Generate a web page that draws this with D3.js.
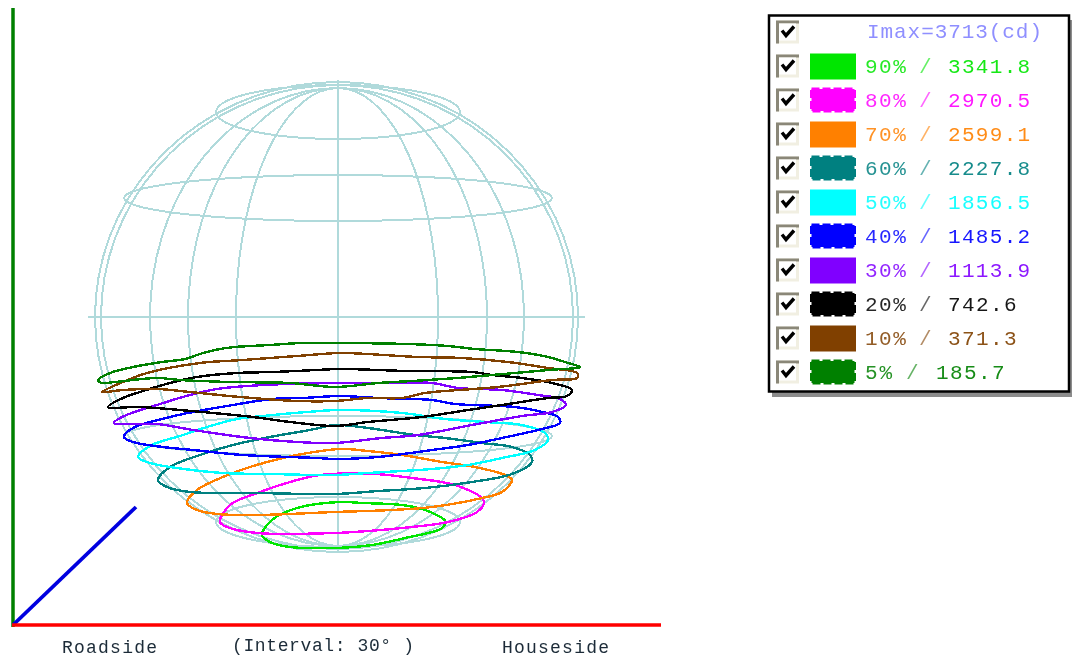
<!DOCTYPE html>
<html>
<head>
<meta charset="utf-8">
<title>Isocandela diagram</title>
<script src="https://cdnjs.cloudflare.com/ajax/libs/d3/7.8.5/d3.min.js"></script>
<style>
html, body { margin: 0; padding: 0; background: #fff; }
svg { display: block; }
text { font-family: "Liberation Mono", monospace; white-space: pre; }
</style>
</head>
<body>
<svg id="chart" width="1072" height="659"></svg>
<script>
// isocandela levels, legend order
var levels = ["90%", "80%", "70%", "60%", "50%", "40%", "30%", "20%", "10%", "5%"];
var candela = ["3341.8", "2970.5", "2599.1", "2227.8", "1856.5", "1485.2", "1113.9", "742.6", "371.3", "185.7"];
var colors = ["#00e600", "#ff00ff", "#ff8000", "#008080", "#00ffff", "#0000ff", "#8000ff", "#000000", "#804000", "#008000"];
var dashedSwatch = [false, true, false, true, false, true, false, true, false, true];
var title = "Imax=3713(cd)";

// curve outlines, sphere units from centre [across, up]
var curve90 = [[-76,-218],[-66,-203],[-41,-191],[2,-185],[24,-186],[64,-188],[87,-193],[107,-204],[104,-211],[67,-221],[34,-228],[-3,-231],[-48,-230],[-68,-225]];
var curve80 = [[-118,-205],[-108,-188],[-78,-175],[-48,-165],[-18,-158],[37,-157],[74,-161],[117,-168],[144,-181],[146,-186],[139,-195],[110,-205],[74,-210],[30,-214],[-3,-216],[-81,-216],[-111,-210]];
var curve70 = [[-151,-186],[-141,-173],[-105,-156],[-71,-145],[-41,-138],[2,-132],[30,-134],[64,-138],[104,-145],[137,-150],[167,-158],[174,-163],[164,-175],[144,-181],[94,-190],[54,-193],[-3,-195],[-81,-198],[-121,-197],[-141,-193]];
var curve60 = [[-180,-163],[-168,-150],[-135,-137],[-105,-128],[-68,-120],[-28,-113],[-3,-108],[30,-111],[77,-118],[107,-121],[144,-126],[174,-130],[192,-138],[194,-145],[174,-157],[134,-165],[87,-171],[40,-174],[-3,-177],[-81,-176],[-148,-175],[-171,-170]];
var curve50 = [[-200,-140],[-186,-128],[-158,-119],[-131,-110],[-101,-102],[-75,-99],[-31,-95],[2,-93],[64,-96],[107,-102],[147,-105],[184,-108],[207,-116],[210,-123],[197,-133],[164,-141],[130,-148],[94,-152],[30,-156],[-3,-158],[-68,-157],[-115,-156],[-161,-151],[-188,-146]];
var curve40 = [[-214,-120],[-205,-111],[-168,-100],[-145,-95],[-105,-88],[-66,-82],[-35,-81],[2,-79],[40,-81],[94,-83],[117,-87],[177,-90],[200,-94],[220,-100],[222,-106],[204,-112],[164,-121],[130,-128],[94,-133],[40,-140],[-3,-142],[-21,-141],[-95,-138],[-145,-133],[-175,-130],[-205,-125]];
var curve30 = [[-224,-106],[-216,-100],[-178,-87],[-148,-78],[-121,-72],[-75,-68],[2,-66],[52,-66],[94,-66],[120,-71],[164,-73],[200,-78],[222,-82],[228,-88],[214,-95],[184,-99],[134,-108],[80,-118],[44,-121],[-3,-126],[-41,-125],[-88,-121],[-145,-113],[-181,-107]];
var curve20 = [[-230,-90],[-215,-81],[-198,-75],[-168,-66],[-141,-60],[-101,-56],[-65,-55],[-21,-53],[2,-52],[69,-54],[134,-55],[154,-58],[184,-61],[214,-66],[234,-73],[229,-79],[210,-81],[164,-88],[130,-93],[84,-100],[30,-105],[-3,-109],[-48,-105],[-85,-100],[-125,-96],[-158,-93],[-198,-90]];
var curve10 = [[-236,-75],[-215,-65],[-191,-56],[-138,-46],[-95,-43],[-41,-39],[2,-36],[29,-37],[80,-40],[124,-41],[170,-45],[210,-51],[239,-56],[239,-61],[214,-63],[160,-70],[87,-76],[64,-81],[30,-81],[-3,-84],[-41,-84],[-98,-80],[-148,-75],[-181,-72],[-215,-73]];
var curve5 = [[-240,-63],[-228,-56],[-205,-50],[-176,-45],[-153,-42],[-135,-36],[-118,-32],[-103,-30],[-68,-28],[-36,-26],[2,-26],[69,-27],[110,-29],[137,-32],[180,-35],[210,-40],[230,-46],[242,-50],[210,-53],[154,-58],[119,-61],[74,-64],[40,-66],[-3,-70],[-48,-66],[-108,-65],[-158,-63],[-181,-61],[-223,-65],[-236,-66]];
var curves = [curve90, curve80, curve70, curve60, curve50, curve40, curve30, curve20, curve10, curve5];

// wireframe globe
var meridianAt = [-243, -237, -188, -150, -102, 100, 149, 186, 235, 240];
var meridianHeight = [235, 232, 229, 229, 229, 229, 229, 229, 232, 235];
var ringUp = [205, 119, -119, -205];
var ringWidth = [122, 214, 214, 122];
var ringDepth = [27, 23, 20, 25];

var svg = d3.select("#chart");

// the source is a scaled up screenshot, soften everything a little
svg.append("defs").append("filter").attr("id", "soft")
    .attr("filterUnits", "userSpaceOnUse")
    .attr("x", 0).attr("y", 0).attr("width", 1072).attr("height", 659)
    .append("feGaussianBlur").attr("stdDeviation", 0.45);

var root = svg.append("g").attr("filter", "url(#soft)");

var x = d3.scaleLinear().domain([-250, 250]).range([88, 588]);
var y = d3.scaleLinear().domain([-240, 240]).range([557, 77]);

var line = d3.line()
    .x(function(d) { return x(d[0]); })
    .y(function(d) { return y(d[1]); });

var gridColor = "#b0dadb";
var grid = root.append("g")
    .attr("fill", "none")
    .attr("stroke", gridColor)
    .attr("stroke-width", 2)
    .attr("shape-rendering", "crispEdges");

// half ellipses from pole to pole
var angles = d3.range(-90, 91, 5);
meridianAt.forEach(function(at, i) {
    var pts = angles.map(function(a) {
        var r = a * Math.PI / 180;
        return [at * Math.cos(r), meridianHeight[i] * Math.sin(r)];
    });
    grid.append("path").attr("d", line(pts));
});

var ringAngles = d3.range(0, 360, 6);
ringUp.forEach(function(up, i) {
    var pts = ringAngles.map(function(a) {
        var r = a * Math.PI / 180;
        return [ringWidth[i] * Math.cos(r), up + ringDepth[i] * Math.sin(r)];
    });
    grid.append("path").attr("d", line.curve(d3.curveLinearClosed)(pts));
});
line.curve(d3.curveLinear);

grid.append("path").attr("d", line([[-250, 0], [247, 0]]));
grid.append("path").attr("d", line([[0, 237], [0, -235]]));

// isocandela curves
var curveLine = d3.line()
    .x(function(d) { return x(d[0]); })
    .y(function(d) { return y(d[1]); })
    .curve(d3.curveCatmullRomClosed.alpha(0.5));

root.append("g").selectAll("path")
    .data(curves)
    .join("path")
    .attr("d", curveLine)
    .attr("fill", "none")
    .attr("stroke", function(d, i) { return colors[i]; })
    .attr("stroke-width", 2.4)
    .attr("shape-rendering", "crispEdges");

// axes
root.append("line").attr("x1", 13).attr("y1", 8).attr("x2", 13).attr("y2", 627)
    .attr("stroke", "#008000").attr("stroke-width", 3.5);
root.append("line").attr("x1", 13).attr("y1", 625).attr("x2", 136).attr("y2", 507)
    .attr("stroke", "#0000e0").attr("stroke-width", 3.8);
root.append("line").attr("x1", 12).attr("y1", 625).attr("x2", 661).attr("y2", 625)
    .attr("stroke", "#ff0000").attr("stroke-width", 3.5);

var axisLabels = root.append("g").attr("fill", "#1c2c38").attr("font-size", 18);
axisLabels.append("text").attr("x", 62).attr("y", 653)
    .attr("textLength", 95).attr("lengthAdjust", "spacing").text("Roadside");
axisLabels.append("text").attr("x", 232).attr("y", 651)
    .attr("textLength", 182).attr("lengthAdjust", "spacing").text("(Interval: 30\u00b0 )");
axisLabels.append("text").attr("x", 502).attr("y", 653)
    .attr("textLength", 107).attr("lengthAdjust", "spacing").text("Houseside");

// legend panel
var legend = root.append("g");
legend.append("rect").attr("x", 772).attr("y", 20).attr("width", 300).attr("height", 377).attr("fill", "#8c8c8c");
legend.append("rect").attr("x", 769).attr("y", 15.5).attr("width", 300).attr("height", 376)
    .attr("fill", "#fff").attr("stroke", "#000").attr("stroke-width", 2.5);

var rowY = d3.scalePoint().domain(d3.range(11)).range([32, 372]);

function checkbox(row) {
    var g = legend.append("g").attr("transform", "translate(776," + (rowY(row) - 11.5) + ")");
    g.append("rect").attr("width", 23).attr("height", 23).attr("fill", "#f1efe2");
    g.append("path").attr("d", "M0 0H23V3H3V23H0Z").attr("fill", "#8a8778");
    g.append("rect").attr("x", 3).attr("y", 3).attr("width", 17).attr("height", 17).attr("fill", "#fff");
    g.append("path").attr("d", "M6 10L10 15L18 6").attr("fill", "none")
        .attr("stroke", "#000").attr("stroke-width", 3.4);
}

function legendText(px, py, color, str, width) {
    var t = legend.append("text").attr("x", px).attr("y", py).attr("font-size", 21)
        .attr("fill", color).text(str);
    if (width) t.attr("textLength", width).attr("lengthAdjust", "spacing");
    return t;
}

checkbox(0);
legendText(867, 38, "#8f8fff", title, 175);

levels.forEach(function(level, i) {
    var row = i + 1, cy = rowY(row);
    var short = level.length < 3, shortValue = candela[i].length < 6;
    checkbox(row);
    var swatch = legend.append("rect")
        .attr("fill", colors[i]);
    if (dashedSwatch[i]) {
        swatch.attr("x", 811.5).attr("y", cy - 11).attr("width", 43).attr("height", 22)
            .attr("stroke", colors[i]).attr("stroke-width", 3).attr("stroke-dasharray", "8 3");
    } else {
        swatch.attr("x", 810).attr("y", cy - 12.5).attr("width", 46).attr("height", 26);
    }
    legendText(865, cy + 7, colors[i], level, level.length * 13.6).attr("opacity", 0.85);
    legendText(short ? 906 : 919, cy + 7, colors[i], "/").attr("opacity", 0.6);
    legendText(short ? 936 : 948, cy + 7, colors[i], candela[i], candela[i].length * 13.7).attr("opacity", 0.9);
});
</script>
</body>
</html>
